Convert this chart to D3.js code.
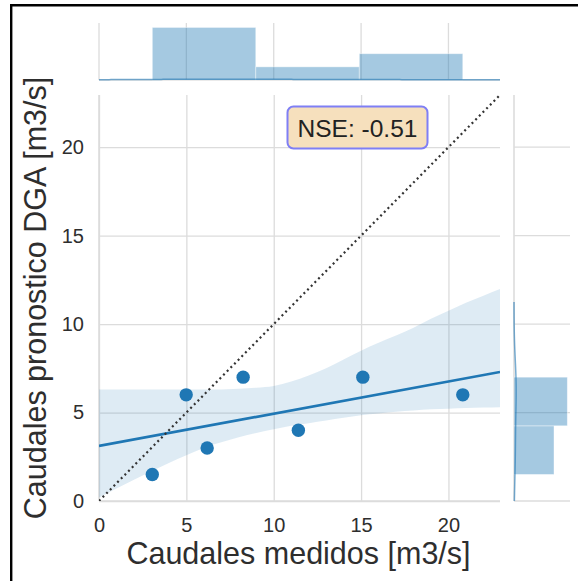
<!DOCTYPE html>
<html><head><meta charset="utf-8">
<script src="https://cdn.jsdelivr.net/npm/d3@7"></script>
<style>body{margin:0;background:#fff} svg{display:block} text{font-family:"Liberation Sans",Arial,sans-serif}</style>
</head><body>
<svg id="c" width="578" height="581"></svg>
<script>
// ---- data ----
const measured = [3.05, 4.99, 6.19, 8.25, 11.41, 15.1, 20.82];
const forecast = [1.5, 6, 3, 7, 4, 7, 6];
const xTicks = [0, 5, 10, 15, 20];
const yTicks = [0, 5, 10, 15, 20];
const axisMax = 22.95;
const bandX     = [0,   2,   4,    6,   8,    9,    10,   11,   12,  13,   14,  15,   16,   17,   18,   19,   20,    21,   22,   23];
const bandUpper = [6.3, 6.3, 6.3,  6.3, 6.35, 6.4,  6.5,  6.75, 7.1, 7.5,  8.0, 8.5,  8.95, 9.35, 9.8,  10.3, 10.75, 11.2, 11.6, 12.0];
const bandLower = [0.2, 1.2, 2.15, 3.0, 3.6,  3.85, 4.05, 4.25, 4.4, 4.55, 4.7, 4.85, 4.95, 5.05, 5.12, 5.18, 5.22,  5.25, 5.28, 5.3];
const histBinsX = 3, histBinsY = 2;
const nseLabel = "NSE: -0.51";
const xLabel = "Caudales medidos [m3/s]";
const yLabel = "Caudales pronostico DGA [m3/s]";

// ---- layout ----
const C0 = "#1f77b4", GRID = "#dcdcdc", TXT = "#2e2e2e";
const M = {l: 99, r: 500, t: 95, b: 501};
const MX = {t: 23, b: 80, top: 24.8};   // top marginal (axis top, baseline, scale top)
const MY = {l: 514, r: 570};            // right marginal

const svg = d3.select("#c");
const x = d3.scaleLinear().domain([0, axisMax]).range([M.l, M.r]);
const y = d3.scaleLinear().domain([0, axisMax]).range([M.b, M.t]);

// frame of the screenshot
svg.append("rect").attr("x", 10).attr("y", 4).attr("width", 568).attr("height", 2.5).attr("fill", "#000");
svg.append("rect").attr("x", 10).attr("y", 4).attr("width", 2.4).attr("height", 577).attr("fill", "#000");

// clip
svg.append("clipPath").attr("id", "mainclip").append("rect")
  .attr("x", M.l).attr("y", M.t).attr("width", M.r - M.l).attr("height", M.b - M.t);

// grid main
const g = svg.append("g");
g.append("g").attr("transform", `translate(0,${M.b})`)
  .call(d3.axisBottom(x).tickValues(xTicks).tickSize(-(M.b - M.t)).tickFormat(""))
  .call(s => { s.select(".domain").remove(); s.selectAll("line").attr("stroke", GRID).attr("stroke-width", 1.3); });
g.append("g").attr("transform", `translate(${M.l},0)`)
  .call(d3.axisLeft(y).tickValues(yTicks).tickSize(-(M.r - M.l)).tickFormat(""))
  .call(s => { s.select(".domain").remove(); s.selectAll("line").attr("stroke", GRID).attr("stroke-width", 1.3); });
// spines
g.append("line").attr("x1", M.l).attr("x2", M.l).attr("y1", M.t).attr("y2", M.b).attr("stroke", GRID).attr("stroke-width", 1.6);
g.append("line").attr("x1", M.l).attr("x2", M.r).attr("y1", M.b).attr("y2", M.b).attr("stroke", GRID).attr("stroke-width", 1.6);

// tick labels
g.append("g").attr("transform", `translate(0,${M.b})`)
  .call(d3.axisBottom(x).tickValues(xTicks).tickSize(0).tickPadding(17).tickFormat(d3.format("d")))
  .call(s => { s.select(".domain").remove(); s.selectAll("text").attr("font-size", 20).attr("fill", TXT).style("font-family", '"Liberation Sans",Arial,sans-serif'); });
g.append("g").attr("transform", `translate(${M.l},0)`)
  .call(d3.axisLeft(y).tickValues(yTicks).tickSize(0).tickPadding(15).tickFormat(d3.format("d")))
  .call(s => { s.select(".domain").remove(); s.selectAll("text").attr("font-size", 20).attr("fill", TXT).style("font-family", '"Liberation Sans",Arial,sans-serif'); });

// axis labels
svg.append("text").attr("x", (M.l + M.r) / 2 - 1).attr("y", 564).attr("text-anchor", "middle")
  .attr("font-size", 30.5).attr("fill", TXT).text(xLabel);
svg.append("text").attr("transform", `translate(46,${(M.t + M.b) / 2}) rotate(-90)`).attr("text-anchor", "middle")
  .attr("font-size", 30.5).attr("fill", TXT).text(yLabel);

// confidence band
const plot = svg.append("g").attr("clip-path", "url(#mainclip)");
const bandData = bandX.map((v, i) => ({x: v, lo: bandLower[i], hi: bandUpper[i]}));
plot.append("path").datum(bandData)
  .attr("d", d3.area().x(d => x(d.x)).y0(d => y(d.lo)).y1(d => y(d.hi)).curve(d3.curveMonotoneX))
  .attr("fill", C0).attr("fill-opacity", 0.15);

// regression line (least squares)
const mx = d3.mean(measured), my = d3.mean(forecast);
const sxy = d3.sum(measured, (v, i) => (v - mx) * (forecast[i] - my));
const sxx = d3.sum(measured, v => (v - mx) ** 2);
const slope = sxy / sxx, icpt = my - slope * mx;
plot.append("line").attr("x1", x(0)).attr("y1", y(icpt)).attr("x2", x(axisMax)).attr("y2", y(icpt + slope * axisMax))
  .attr("stroke", C0).attr("stroke-width", 2.7);

// points
plot.selectAll("circle.pt").data(measured).join("circle").attr("class", "pt")
  .attr("cx", d => x(d)).attr("cy", (d, i) => y(forecast[i])).attr("r", 6.7).attr("fill", C0);

// 1:1 line
plot.append("line").attr("x1", x(0)).attr("y1", y(0)).attr("x2", x(axisMax)).attr("y2", y(axisMax))
  .attr("stroke", "#333").attr("stroke-width", 2.2).attr("stroke-dasharray", "2,3.2");

// NSE box
const nb = svg.append("g");
nb.append("rect").attr("x", 287.5).attr("y", 106.5).attr("width", 140).attr("height", 42).attr("rx", 6)
  .attr("fill", "#f6e0bd").attr("stroke", "#7f7ff5").attr("stroke-width", 2);
nb.append("text").attr("x", 357.5).attr("y", 137).attr("text-anchor", "middle").attr("font-size", 24.5)
  .attr("fill", "#222").text(nseLabel);

// KDE helper
function kde(arr) {
  const n = arr.length, sd = d3.deviation(arr), bw = sd * Math.pow(n, -0.2);
  return {bw, f: t => d3.mean(arr, v => Math.exp(-0.5 * ((t - v) / bw) ** 2)) / (bw * Math.sqrt(2 * Math.PI))};
}

// ---- top marginal ----
const xExt = d3.extent(measured);
const thrX = d3.range(1, histBinsX).map(i => xExt[0] + i * (xExt[1] - xExt[0]) / histBinsX);
const binsXd = d3.bin().domain(xExt).thresholds(thrX)(measured);
const cmaxX = d3.max(binsXd, b => b.length) * 1.05;
const cy = d3.scaleLinear().domain([0, cmaxX]).range([MX.b, MX.top]);
const tm = svg.append("g");
tm.selectAll("line.gx").data(xTicks).join("line").attr("class", "gx")
  .attr("x1", d => x(d)).attr("x2", d => x(d)).attr("y1", MX.t).attr("y2", MX.b).attr("stroke", GRID).attr("stroke-width", 1.3);
tm.append("line").attr("x1", M.l).attr("x2", M.r).attr("y1", MX.b).attr("y2", MX.b).attr("stroke", GRID).attr("stroke-width", 1.6);
tm.selectAll("rect").data(binsXd).join("rect")
  .attr("x", d => x(d.x0)).attr("width", d => x(d.x1) - x(d.x0))
  .attr("y", d => cy(d.length)).attr("height", d => MX.b - cy(d.length))
  .attr("fill", C0).attr("fill-opacity", 0.4).attr("stroke", "#fff").attr("stroke-opacity", 0.5).attr("stroke-width", 0.8);
const kx = kde(measured);
const kxPts = d3.range(0, 201).map(i => axisMax * i / 200).filter(t => t >= xExt[0] - 3 * kx.bw && t <= xExt[1] + 3 * kx.bw);
tm.append("path").attr("d", d3.line().x(t => x(t)).y(t => cy(kx.f(t)))(kxPts))
  .attr("fill", "none").attr("stroke", C0).attr("stroke-width", 1.5).attr("stroke-opacity", 0.6);

// ---- right marginal ----
const yExt = d3.extent(forecast);
const thrY = d3.range(1, histBinsY).map(i => yExt[0] + i * (yExt[1] - yExt[0]) / histBinsY);
const binsYd = d3.bin().domain(yExt).thresholds(thrY)(forecast);
const cmaxY = d3.max(binsYd, b => b.length) * 1.05;
const cx = d3.scaleLinear().domain([0, cmaxY]).range([MY.l, MY.r]);
const rm = svg.append("g");
rm.selectAll("line.gy").data(yTicks).join("line").attr("class", "gy")
  .attr("y1", d => y(d)).attr("y2", d => y(d)).attr("x1", MY.l).attr("x2", MY.r).attr("stroke", GRID).attr("stroke-width", 1.3);
rm.append("line").attr("x1", MY.l).attr("x2", MY.l).attr("y1", M.t).attr("y2", M.b).attr("stroke", GRID).attr("stroke-width", 1.6);
rm.selectAll("rect").data(binsYd).join("rect")
  .attr("y", d => y(d.x1)).attr("height", d => y(d.x0) - y(d.x1))
  .attr("x", MY.l).attr("width", d => cx(d.length) - MY.l)
  .attr("fill", C0).attr("fill-opacity", 0.4).attr("stroke", "#fff").attr("stroke-opacity", 0.5).attr("stroke-width", 0.8);
const ky = kde(forecast);
const kyPts = d3.range(0, 201).map(i => axisMax * i / 200).filter(t => t >= yExt[0] - 3 * ky.bw && t <= yExt[1] + 3 * ky.bw);
rm.append("path").attr("d", d3.line().y(t => y(t)).x(t => cx(ky.f(t)))(kyPts))
  .attr("fill", "none").attr("stroke", C0).attr("stroke-width", 1.5).attr("stroke-opacity", 0.6);
</script>
</body></html>
